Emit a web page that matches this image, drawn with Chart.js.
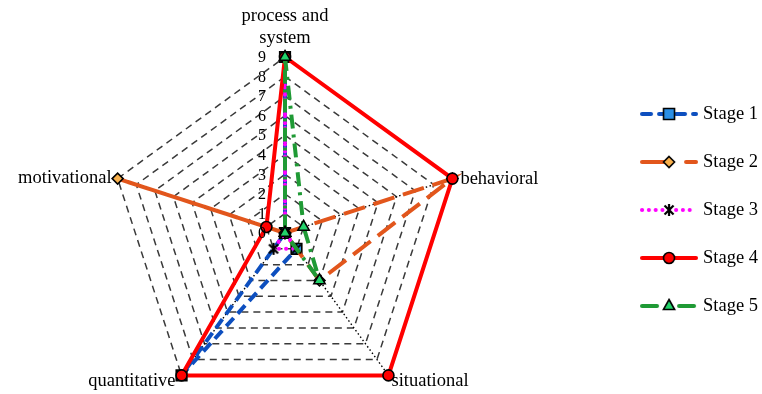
<!DOCTYPE html>
<html lang="en">
<head>
  <meta charset="UTF-8" />
  <title>Stages radar</title>
  <script src="https://cdn.jsdelivr.net/npm/chart.js"></script>
  <style>
    html, body { margin: 0; padding: 0; background: #fff; }
    #wrap { width: 762px; height: 394px; position: relative; }
  </style>
</head>
<body>
  <div id="wrap"><canvas id="radar"></canvas></div>

  <script>
    // axis names, clockwise from the top
    const categories = [['process and', 'system'], 'behavioral', 'situational', 'quantitative', 'motivational'];
    const tickValues = [0, 1, 2, 3, 4, 5, 6, 7, 8, 9];
    const tickLabels = ['0', '1', '2', '3', '4', '5', '6', '7', '8', '9'];

    const seriesNames = ['Stage 1', 'Stage 2', 'Stage 3', 'Stage 4', 'Stage 5'];
    const stage1 = [9, 0, 1, 9, 0];
    const stage2 = [0, 9, 3, 0, 9];
    const stage3 = [9, 0, 1, 1, 0];
    const stage4 = [9, 9, 9, 9, 1];
    const stage5 = [9, 1, 3, 0, 0];

    const SERIF = '"Liberation Serif", "Times New Roman", serif';

    // asterisk marker (x with a vertical bar)
    function starMarker() {
      const c = document.createElement('canvas');
      c.width = 14; c.height = 14;
      const g = c.getContext('2d');
      g.strokeStyle = '#000';
      g.lineWidth = 2.2;
      g.beginPath();
      g.moveTo(2.5, 2.5); g.lineTo(11.5, 11.5);
      g.moveTo(11.5, 2.5); g.lineTo(2.5, 11.5);
      g.moveTo(7, 1); g.lineTo(7, 13);
      g.stroke();
      return c;
    }
    const starImg = starMarker();

    const styles = [
      { line: '#0d4fbf', dash: [11, 6], width: 4, cap: 'butt', marker: 'rect', radius: 7.5, fill: '#2b8fe5' },
      { line: '#e2561c', dash: [22, 9], width: 4, cap: 'butt', marker: 'rectRot', radius: 5.5, fill: '#f8b04c' },
      { line: '#ff00ff', dash: [0.1, 7], width: 4, cap: 'round', marker: starImg, radius: 6, fill: '#000' },
      { line: '#ff0000', dash: [], width: 4, cap: 'butt', marker: 'circle', radius: 5.5, fill: '#ff0000' },
      { line: '#1f9a35', dash: [14, 6, 3, 6], width: 4, cap: 'butt', marker: 'triangle', radius: 6.5, fill: '#22d36a' }
    ];

    // little line + marker picture for each legend entry
    function legendIcon(st) {
      const c = document.createElement('canvas');
      c.width = 58; c.height = 16;
      const g = c.getContext('2d');
      const cy = 8;
      g.strokeStyle = st.line;
      g.lineWidth = st.width;
      g.lineCap = 'round';
      if (st.marker === starImg) g.setLineDash([0.1, 6.7]);
      else if (st.dash.length === 2 && st.dash[0] > 20) g.setLineDash([28, 16]);
      else if (st.dash.length === 4) g.setLineDash([15, 22]);
      else if (st.dash.length) g.setLineDash([9, 8]);
      g.beginPath();
      g.moveTo(2, cy); g.lineTo(56, cy);
      g.stroke();
      g.setLineDash([]);
      g.fillStyle = st.fill;
      g.strokeStyle = '#000';
      g.lineWidth = 1.6;
      const x = 29;
      g.beginPath();
      if (st.marker === 'rect') {
        g.rect(x - 5.5, cy - 5.5, 11, 11);
      } else if (st.marker === 'rectRot') {
        g.moveTo(x, cy - 5.5); g.lineTo(x + 5.5, cy); g.lineTo(x, cy + 5.5); g.lineTo(x - 5.5, cy); g.closePath();
      } else if (st.marker === 'circle') {
        g.arc(x, cy, 5.5, 0, Math.PI * 2);
      } else if (st.marker === 'triangle') {
        g.moveTo(x, cy - 6.5); g.lineTo(x + 5.6, cy + 3.5); g.lineTo(x - 5.6, cy + 3.5); g.closePath();
      }
      if (st.marker === starImg) {
        g.drawImage(starImg, x - 7, cy - 7);
      } else {
        g.fill(); g.stroke();
      }
      return c;
    }
    const legendIcons = styles.map(legendIcon);

    const values = [stage1, stage2, stage3, stage4, stage5];
    const datasets = values.map((v, i) => ({
      label: seriesNames[i],
      data: v,
      order: 5 - i,
      fill: false,
      borderColor: styles[i].line,
      borderWidth: styles[i].width,
      borderDash: styles[i].dash,
      borderCapStyle: styles[i].cap,
      pointStyle: styles[i].marker,
      pointRadius: styles[i].radius,
      pointBackgroundColor: styles[i].fill,
      pointBorderColor: '#000',
      pointBorderWidth: 1.6
    }));

    // axis names and tick numbers, placed next to the scale
    const axisText = {
      id: 'axisText',
      afterDatasetsDraw(chart) {
        const s = chart.scales.r;
        const ctx = chart.ctx;
        ctx.save();
        ctx.fillStyle = '#000';
        ctx.font = '16px ' + SERIF;
        ctx.textAlign = 'right';
        ctx.textBaseline = 'middle';
        tickValues.forEach((v, i) => {
          const y = s.yCenter - s.getDistanceFromCenterForValue(v);
          ctx.fillText(tickLabels[i], s.xCenter - 19, y + 1);
        });

        ctx.font = '18.5px ' + SERIF;
        ctx.textBaseline = 'alphabetic';
        const place = [
          { align: 'center', dx: 0, dy: -14 },
          { align: 'left', dx: 8, dy: 5 },
          { align: 'left', dx: 3, dy: 11 },
          { align: 'right', dx: -6, dy: 11 },
          { align: 'right', dx: -6, dy: 4 }
        ];
        categories.forEach((name, i) => {
          const p = s.getPointPosition(i, s.drawingArea);
          const lines = Array.isArray(name) ? name : [name];
          ctx.textAlign = place[i].align;
          lines.forEach((t, k) => {
            const y = p.y + place[i].dy - 22 * (lines.length - 1 - k);
            ctx.fillText(t, p.x + place[i].dx, y);
          });
        });
        ctx.restore();
      }
    };

    new Chart(document.getElementById('radar'), {
      type: 'radar',
      data: { labels: categories, datasets: datasets },
      options: {
        responsive: true,
        maintainAspectRatio: false,
        animation: false,
        elements: { line: { tension: 0 } },
        layout: { padding: { top: 58, right: -6 } },
        scales: {
          r: {
            min: 0,
            max: 9,
            ticks: { stepSize: 1, display: false },
            pointLabels: { display: false },
            grid: { color: '#3a3a3a', lineWidth: 1.5 },
            border: { dash: [7, 5] },
            angleLines: { color: '#000', lineWidth: 1.4, borderDash: [1.5, 2.5] },
            // the plot sits left of centre and reaches below the legend box
            afterFit(scale) {
              scale.xCenter = 285;
              scale.yCenter = 233;
              scale.drawingArea = 176;
            }
          }
        },
        plugins: {
          tooltip: { enabled: false },
          legend: {
            position: 'right',
            align: 'start',
            title: { display: true, text: '', padding: 0, font: { size: 14.375, lineHeight: 1.2 } },
            labels: {
              usePointStyle: true,
              pointStyleWidth: 49.5,
              padding: 29.5,
              color: '#000',
              font: { family: SERIF, size: 18.5 },
              generateLabels: chart => chart.data.datasets.map((ds, i) => ({
                text: ds.label,
                pointStyle: legendIcons[i],
                fillStyle: 'rgba(0,0,0,0)',
                strokeStyle: 'rgba(0,0,0,0)',
                lineWidth: 0,
                fontColor: '#000',
                hidden: !chart.isDatasetVisible(i),
                datasetIndex: i
              }))
            }
          }
        }
      },
      plugins: [axisText]
    });
  </script>
</body>
</html>
